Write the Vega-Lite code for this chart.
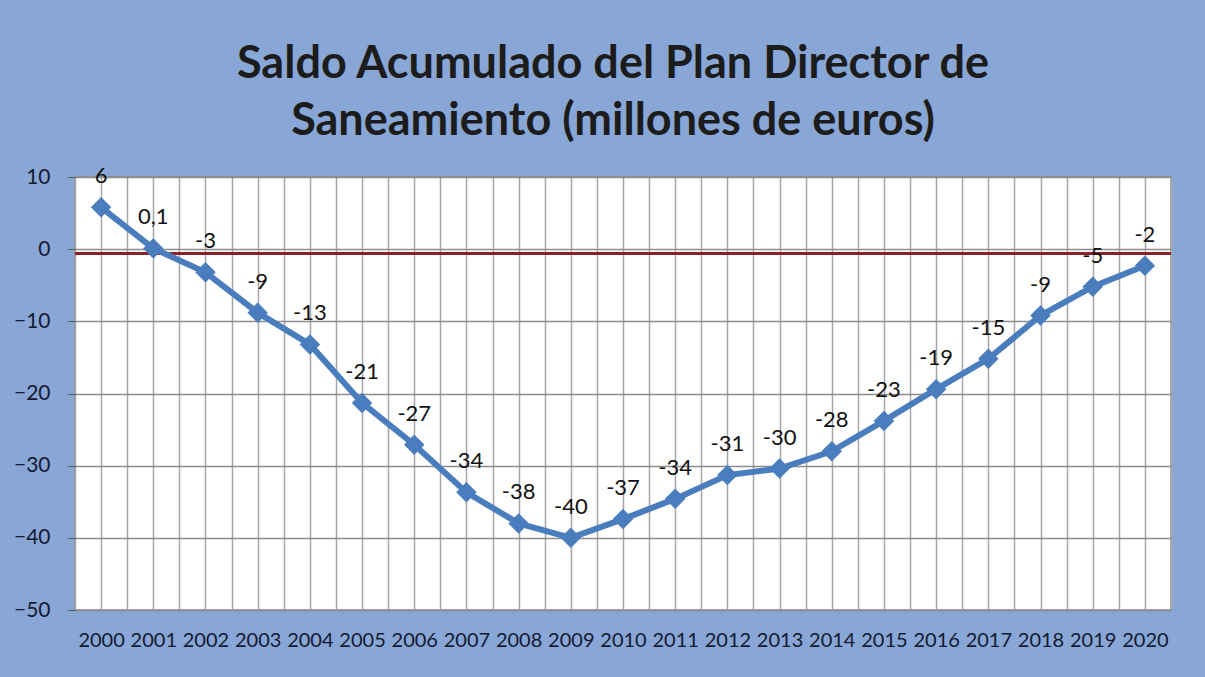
{
  "$schema": "https://vega.github.io/schema/vega-lite/v6.json",
  "autosize": "none",
  "width": 1096,
  "height": 433,
  "padding": {"left": 75, "top": 177, "right": 34, "bottom": 67},
  "background": "#88a6d6",
  "title": {
    "text": ["Saldo Acumulado del Plan Director de", "Saneamiento (millones de euros)"],
    "font": "Lato",
    "fontSize": 45,
    "fontWeight": "bold",
    "color": "#1c1c1c",
    "lineHeight": 57,
    "anchor": "middle",
    "offset": 21,
    "dx": -10
  },
  "config": {
    "view": {"stroke": "#8c8c8c", "strokeWidth": 1.5, "fill": "white"},
    "axis": {"labelFont": "Lato", "labelFontSize": 21, "labelColor": "#141a30", "domain": false, "gridColor": "#8c8c8c", "gridWidth": 1.5, "gridOpacity": 1}
  },
  "data": {
    "values": [
      {"year": 2000, "value": 5.8, "label": "6"},
      {"year": 2001, "value": 0.1, "label": "0,1"},
      {"year": 2002, "value": -3.2, "label": "-3"},
      {"year": 2003, "value": -8.8, "label": "-9"},
      {"year": 2004, "value": -13.2, "label": "-13"},
      {"year": 2005, "value": -21.3, "label": "-21"},
      {"year": 2006, "value": -27.1, "label": "-27"},
      {"year": 2007, "value": -33.7, "label": "-34"},
      {"year": 2008, "value": -38.0, "label": "-38"},
      {"year": 2009, "value": -40.0, "label": "-40"},
      {"year": 2010, "value": -37.4, "label": "-37"},
      {"year": 2011, "value": -34.6, "label": "-34"},
      {"year": 2012, "value": -31.3, "label": "-31"},
      {"year": 2013, "value": -30.4, "label": "-30"},
      {"year": 2014, "value": -28.0, "label": "-28"},
      {"year": 2015, "value": -23.8, "label": "-23"},
      {"year": 2016, "value": -19.4, "label": "-19"},
      {"year": 2017, "value": -15.2, "label": "-15"},
      {"year": 2018, "value": -9.2, "label": "-9"},
      {"year": 2019, "value": -5.2, "label": "-5"},
      {"year": 2020, "value": -2.3, "label": "-2"}
    ]
  },
  "encoding": {
    "y": {
      "field": "value",
      "type": "quantitative",
      "scale": {"domain": [-50, 10], "nice": false},
      "axis": {
        "title": null,
        "values": [-50, -40, -30, -20, -10, 0, 10],
        "format": "d",
        "ticks": true,
        "tickSize": 7,
        "tickColor": "#555555",
        "labelPadding": 18
      }
    }
  },
  "layer": [
    {
      "mark": {"type": "point", "shape": "diamond", "filled": true, "color": "#4a7dbd", "size": 320, "opacity": 0},
      "encoding": {
        "x": {
          "field": "year",
          "type": "quantitative",
          "scale": {"domain": [1999.5, 2020.5], "nice": false, "zero": false},
          "axis": {
            "title": null,
            "orient": "bottom",
            "grid": true,
            "values": [1999.5, 2000.5, 2001.5, 2002.5, 2003.5, 2004.5, 2005.5, 2006.5, 2007.5, 2008.5, 2009.5, 2010.5, 2011.5, 2012.5, 2013.5, 2014.5, 2015.5, 2016.5, 2017.5, 2018.5, 2019.5, 2020.5],
            "labels": false,
            "ticks": false,
            "minExtent": 0,
            "maxExtent": 0,
            "gridColor": "#a6a6a6"
          }
        }
      }
    },
    {
      "mark": {"type": "rule", "color": "#8b1f2a", "strokeWidth": 3},
      "encoding": {"y": {"datum": -0.6}}
    },
    {
      "mark": {"type": "line", "color": "#4a7dbd", "strokeWidth": 6},
      "encoding": {
        "x": {
          "field": "year",
          "type": "quantitative",
          "axis": {
            "title": null,
            "orient": "bottom",
            "grid": true,
            "values": [2000, 2001, 2002, 2003, 2004, 2005, 2006, 2007, 2008, 2009, 2010, 2011, 2012, 2013, 2014, 2015, 2016, 2017, 2018, 2019, 2020],
            "format": "d",
            "labelOverlap": false,
            "labelBound": false,
            "labelFlush": false,
            "labelFontSize": 20,
            "ticks": false,
            "labelPadding": 20,
            "gridColor": "#a6a6a6"
          }
        }
      }
    },
    {
      "mark": {"type": "point", "shape": "diamond", "filled": true, "color": "#4a7dbd", "size": 420, "opacity": 1},
      "encoding": {"x": {"field": "year", "type": "quantitative", "axis": null}}
    },
    {
      "mark": {"type": "text", "dy": -31, "font": "Lato", "fontSize": 22, "color": "#111111"},
      "encoding": {"x": {"field": "year", "type": "quantitative", "axis": null}, "text": {"field": "label"}}
    }
  ],
  "resolve": {"axis": {"x": "independent"}}
}
